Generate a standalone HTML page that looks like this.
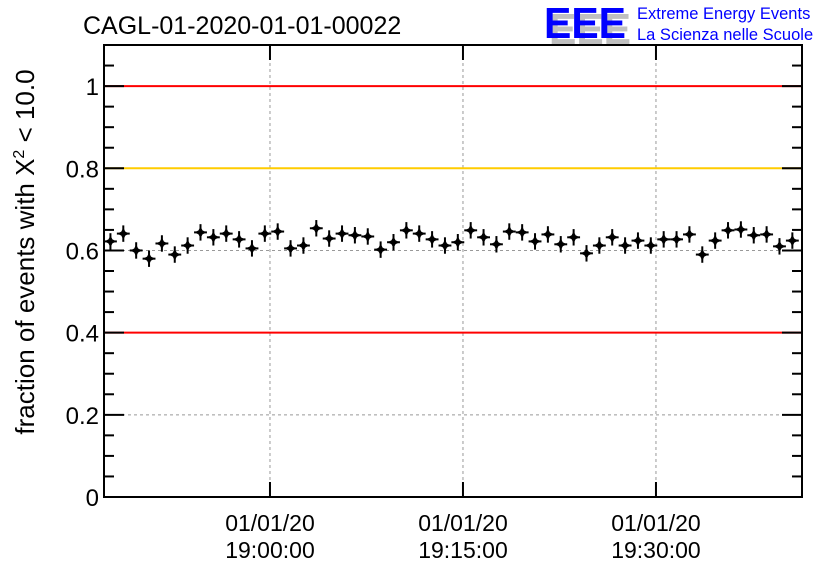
<!DOCTYPE html>
<html><head><meta charset="utf-8"><style>
body{margin:0;background:#fff}
svg text{font-family:"Liberation Sans",sans-serif}
</style></head><body>
<svg width="836" height="572" viewBox="0 0 836 572">
<g id="g"></g>
<text x="83" y="34" font-size="25">CAGL-01-2020-01-01-00022</text>
<g>
<text x="549" y="44" font-size="44" font-weight="bold" fill="#c0c0c0" textLength="82" lengthAdjust="spacingAndGlyphs">EEE</text>
<text x="544" y="38" font-size="44" font-weight="bold" fill="#0000ff" textLength="82" lengthAdjust="spacingAndGlyphs">EEE</text>
<text x="637" y="19" font-size="16.5" fill="#0000ff">Extreme Energy Events</text>
<text x="637" y="40" font-size="16.5" fill="#0000ff">La Scienza nelle Scuole</text>
</g>
<text transform="translate(34,252) rotate(-90)" font-size="26" text-anchor="middle">fraction of events with X<tspan dy="-10" font-size="16">2</tspan><tspan dy="10"> &lt; 10.0</tspan></text>
</svg>
<script>
const minutes=[];for(let i=0;i<54;i++)minutes.push(i);
const values=[0.622,0.641,0.600,0.580,0.617,0.590,0.612,0.644,0.632,0.641,0.627,0.605,0.641,0.646,0.605,0.612,0.654,0.629,0.641,0.637,0.634,0.602,0.620,0.649,0.641,0.627,0.612,0.620,0.649,0.632,0.615,0.646,0.644,0.622,0.639,0.615,0.632,0.593,0.612,0.632,0.612,0.624,0.612,0.627,0.627,0.639,0.590,0.624,0.649,0.651,0.637,0.639,0.610,0.624];
const errors=values.map(()=>0.02);
const refLines=[1,0.8,0.4];
const refColors=['#ff0000','#ffcc00','#ff0000'];
const yTicks=[0,0.2,0.4,0.6,0.8,1];
const yTickLabels=['0','0.2','0.4','0.6','0.8','1'];
const xTickMin=[12.9,27.9,42.9];
const xTickLabels=[['01/01/20','19:00:00'],['01/01/20','19:15:00'],['01/01/20','19:30:00']];
const L=104,R=802,T=45,B=497,XMAX=54.25,YMAX=1.1;
const sx=m=>L+(m)/XMAX*(R-L);
const sy=v=>B-v/YMAX*(B-T);
const NS='http://www.w3.org/2000/svg';
const g=document.getElementById('g');
function el(t,a,p){const e=document.createElementNS(NS,t);for(const k in a)e.setAttribute(k,a[k]);(p||g).appendChild(e);return e;}
yTicks.forEach(v=>{if(v>0&&v<1){const e=el('line',{x1:L,x2:R,y1:sy(v),y2:sy(v),stroke:'#999','stroke-dasharray':'3,3','stroke-width':1});

}});
xTickMin.forEach(m=>{const e=el('line',{x1:sx(m),x2:sx(m),y1:T,y2:B,stroke:'#999','stroke-dasharray':'3,3','stroke-width':1});

});
refLines.forEach((v,i)=>{const e=el('line',{x1:L,x2:R,y1:sy(v),y2:sy(v),stroke:refColors[i],'stroke-width':2});

});
const f=el('rect',{x:L,y:T,width:R-L,height:B-T,fill:'none',stroke:'#000','stroke-width':2});


for(let k=0;k<=22;k++){const v=k*0.05;const len=(k%4===0)?20:10;
el('line',{x1:L,x2:L+len,y1:sy(v),y2:sy(v),stroke:'#000','stroke-width':2});
el('line',{x1:R-len,x2:R,y1:sy(v),y2:sy(v),stroke:'#000','stroke-width':2});}
yTicks.forEach((v,i)=>{const t=el('text',{x:L-5,y:sy(v)+9,'font-size':24,'text-anchor':'end'});t.textContent=yTickLabels[i];

});
xTickMin.forEach((m,i)=>{const x=sx(m);
el('line',{x1:x,x2:x,y1:B-15,y2:B,stroke:'#000','stroke-width':2});
el('line',{x1:x,x2:x,y1:T,y2:T+15,stroke:'#000','stroke-width':2});
xTickLabels[i].forEach((s,j)=>{const t=el('text',{x:x,y:531+j*27,'font-size':23,'text-anchor':'middle'});t.textContent=s;

});});
values.forEach((v,i)=>{const x=sx(minutes[i]+0.5),y=sy(v);
const pg=el('g',{});


el('line',{x1:sx(minutes[i]),x2:sx(minutes[i]+1),y1:y,y2:y,stroke:'#000','stroke-width':2},pg);
el('line',{x1:x,x2:x,y1:sy(v-errors[i]),y2:sy(v+errors[i]),stroke:'#000','stroke-width':2},pg);
el('path',{d:`M${x},${y-6}L${x+2},${y-2}L${x+6},${y}L${x+2},${y+2}L${x},${y+6}L${x-2},${y+2}L${x-6},${y}L${x-2},${y-2}Z`,fill:'#000'},pg);});
</script>
</body></html>
